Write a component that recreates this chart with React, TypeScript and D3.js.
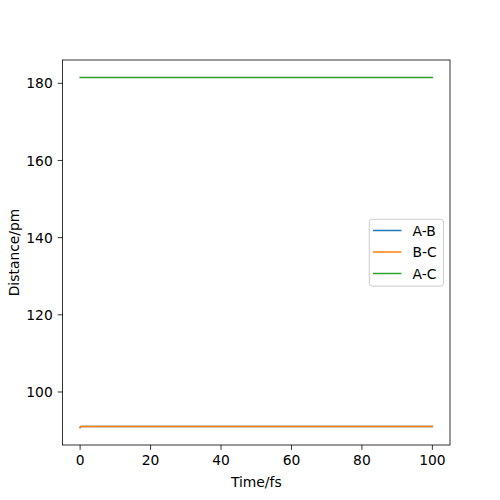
import React from "react";
import * as d3 from "d3";

const times = [0, 0.2, 100];
const abValues = [90.8, 91.05, 91.05];
const bcValues = [90.8, 91.05, 91.05];
const acValues = [181.5, 181.5, 181.5];
const seriesNames = ["A-B", "B-C", "A-C"];
const seriesColors = ["#1f77b4", "#ff7f0e", "#2ca02c"];
const xTicks = [0, 20, 40, 60, 80, 100];
const yTicks = [100, 120, 140, 160, 180];

const W = 500, H = 500;
const L = 62.5, R = 450, T = 60, B = 445;
const FONT = "'DejaVu Sans', sans-serif";
const FS = 13.89;

export default function App() {
  const all = [abValues, bcValues, acValues];
  const yMin = d3.min(all.flat())!;
  const yMax = d3.max(all.flat())!;
  const yPad = (yMax - yMin) * 0.05;
  const xMin = d3.min(times)!, xMax = d3.max(times)!;
  const xPad = (xMax - xMin) * 0.05;
  const x = d3.scaleLinear().domain([xMin - xPad, xMax + xPad]).range([L, R]);
  const y = d3.scaleLinear().domain([yMin - yPad, yMax + yPad]).range([B, T]);
  const line = d3.line<number>().x((_, i) => x(times[i])).y((d) => y(d));
  const tickLen = 4.86;

  return (
    <svg width={W} height={H} style={{ position: "absolute", left: 0, top: 0 }} fontFamily={FONT}>
      <rect width={W} height={H} fill="white" />
      {all.map((vals, i) => (
        <path key={i} d={line(vals)!} fill="none" stroke={seriesColors[i]} strokeWidth={1.5} strokeLinecap="square" />
      ))}
      <rect x={L} y={T} width={R - L} height={B - T} fill="none" stroke="black" strokeWidth={0.8} />
      {xTicks.map((t) => (
        <g key={t}>
          <line x1={x(t)} x2={x(t)} y1={B} y2={B + tickLen} stroke="black" strokeWidth={0.8} />
          <text x={x(t)} y={B + tickLen + 4.86 + 10.6} textAnchor="middle" fontSize={FS} fill="black">{t}</text>
        </g>
      ))}
      {yTicks.map((t) => (
        <g key={t}>
          <line x1={L - tickLen} x2={L} y1={y(t)} y2={y(t)} stroke="black" strokeWidth={0.8} />
          <text x={L - tickLen - 4.86} y={y(t) + 5.1} textAnchor="end" fontSize={FS} fill="black">{t}</text>
        </g>
      ))}
      <text x={(L + R) / 2} y={487} textAnchor="middle" fontSize={FS} fill="black">Time/fs</text>
      <text transform={`translate(19,${(T + B) / 2}) rotate(-90)`} textAnchor="middle" fontSize={FS} fill="black">Distance/pm</text>
      <g>
        <rect x={369.3} y={219.3} width={74.2} height={66.8} rx={2.8} fill="white" fillOpacity={0.8} stroke="#cccccc" strokeWidth={1} />
        {seriesNames.map((n, i) => {
          const ry = 230.5 + i * 21.5;
          return (
            <g key={n}>
              <line x1={373} x2={401.5} y1={ry} y2={ry} stroke={seriesColors[i]} strokeWidth={1.5} />
              <text x={412.5} y={ry + 5} fontSize={FS} fill="black">{n}</text>
            </g>
          );
        })}
      </g>
    </svg>
  );
}
